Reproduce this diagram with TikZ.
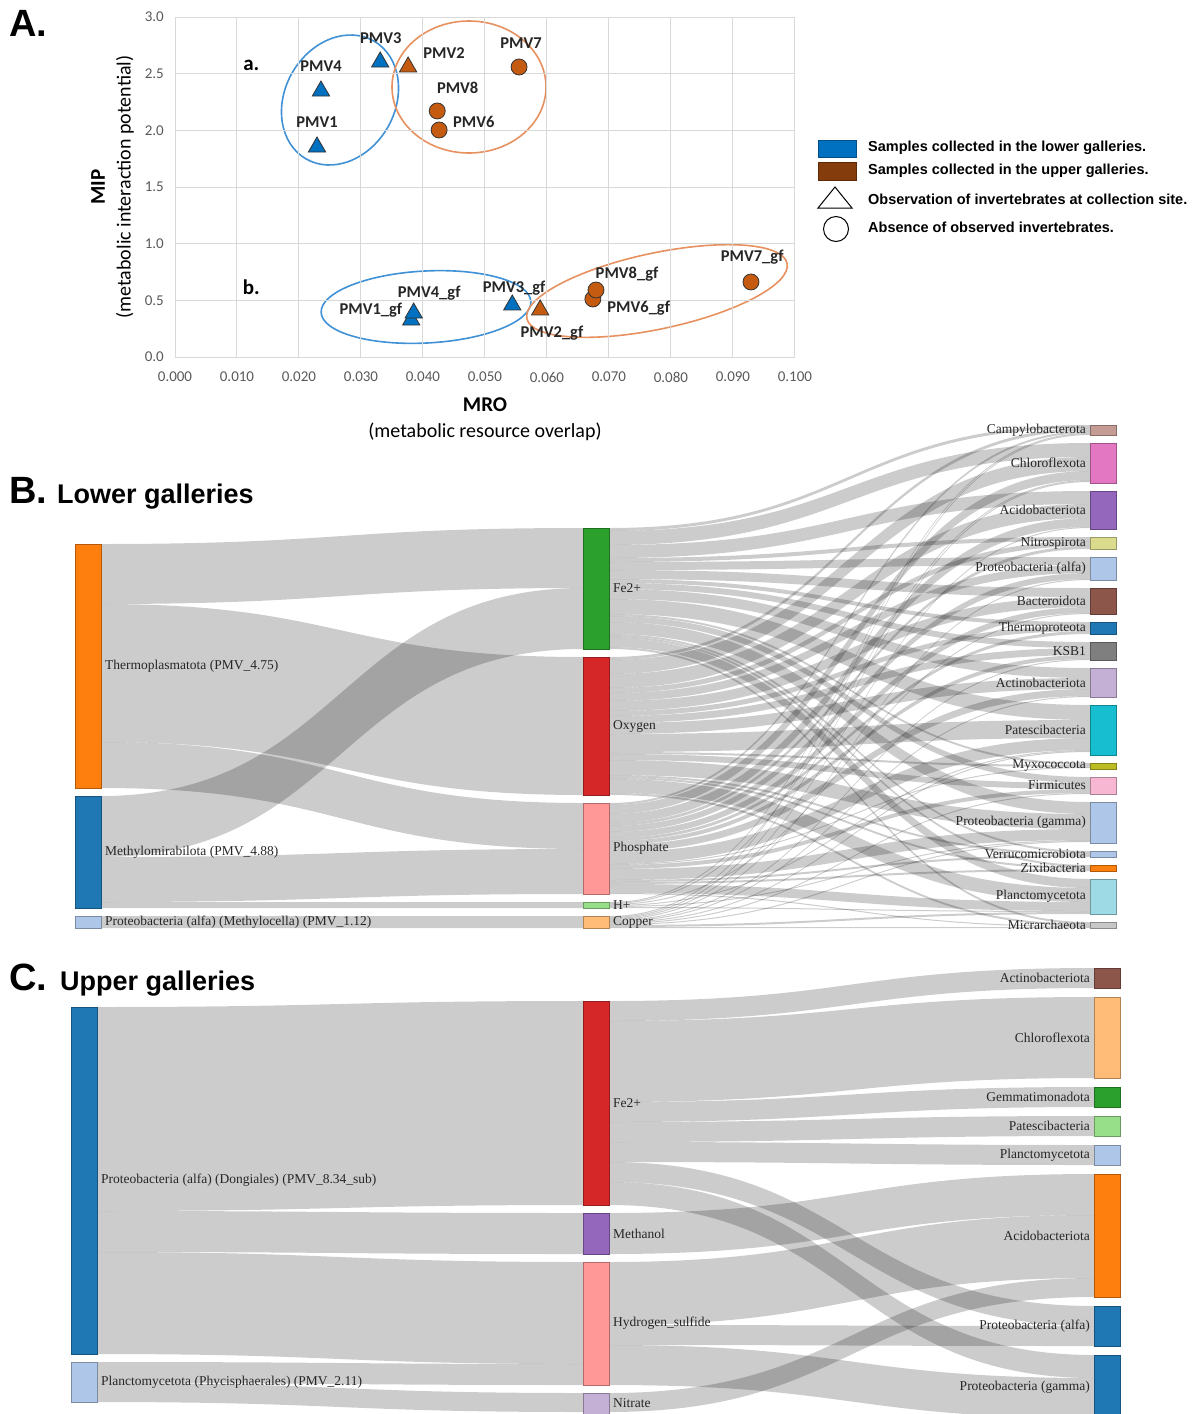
\documentclass[tikz,border=0pt]{standalone}
\usepackage{fontspec}
\setmainfont{Liberation Serif}
\newfontfamily\arialfont{Liberation Sans}
\newfontfamily\calibfont{Carlito}
\usepackage{tikz}
\usetikzlibrary{positioning,shapes.geometric,backgrounds,calc}

% sankey palette
\definecolor{cBlue}{RGB}{31,119,180}
\definecolor{cLtBlue}{RGB}{174,199,232}
\definecolor{cOrange}{RGB}{255,127,14}
\definecolor{cLtOrange}{RGB}{255,187,120}
\definecolor{cGreen}{RGB}{44,160,44}
\definecolor{cLtGreen}{RGB}{152,223,138}
\definecolor{cRed}{RGB}{214,39,40}
\definecolor{cLtRed}{RGB}{255,152,150}
\definecolor{cPurple}{RGB}{148,103,189}
\definecolor{cLtPurple}{RGB}{197,176,213}
\definecolor{cBrown}{RGB}{140,86,75}
\definecolor{cLtBrown}{RGB}{196,156,148}
\definecolor{cPink}{RGB}{227,119,194}
\definecolor{cLtPink}{RGB}{247,182,210}
\definecolor{cGray}{RGB}{127,127,127}
\definecolor{cLtGray}{RGB}{199,199,199}
\definecolor{cOlive}{RGB}{188,189,34}
\definecolor{cLtOlive}{RGB}{219,219,141}
\definecolor{cCyan}{RGB}{23,190,207}
\definecolor{cLtCyan}{RGB}{158,218,229}
% scatter palette
\definecolor{xlBlue}{RGB}{0,112,192}
\definecolor{xlOrange}{RGB}{197,90,17}
\definecolor{xlBrown}{RGB}{132,60,12}
\definecolor{ringBlue}{RGB}{64,145,214}
\definecolor{ringOrange}{RGB}{230,145,95}

% band between two bars, stacked on each side
\newcommand{\flowbend}{241}
\newcommand{\flow}[3]{%
  \ifcsname so#1\endcsname\else\expandafter\gdef\csname so#1\endcsname{0}\fi
  \ifcsname si#2\endcsname\else\expandafter\gdef\csname si#2\endcsname{0}\fi
  \ifdim#3pt>0pt
    \edef\fsa{\csname so#1\endcsname}%
    \edef\fsb{\csname si#2\endcsname}%
    \pgfmathsetmacro\fsc{\fsa+#3}%
    \pgfmathsetmacro\fsd{\fsb+#3}%
    \fill[flow_band] ([yshift=-\fsa pt]#1.north east)
      .. controls +(\flowbend,0) and +(-\flowbend,0) .. ([yshift=-\fsb pt]#2.north west)
      -- ([yshift=-\fsd pt]#2.north west)
      .. controls +(-\flowbend,0) and +(\flowbend,0) .. ([yshift=-\fsc pt]#1.north east) -- cycle;
    \expandafter\xdef\csname so#1\endcsname{\fsc}%
    \expandafter\xdef\csname si#2\endcsname{\fsd}%
  \fi}

\begin{document}
\begin{tikzpicture}[
    x=1pt, y=-1pt,
    label distance=4pt,
    bar_box/.style={draw=#1!70!black, fill=#1, line width=0.6pt, minimum width=26pt, inner sep=0pt, outer sep=0pt, anchor=north west},
    flow_band/.style={fill=black, fill opacity=0.2},
    tax_lbl/.style={font=\fontsize{13.5}{14}\selectfont, inner sep=0pt, text=black!85},
    hdr_big/.style={font=\arialfont\bfseries\fontsize{38}{40}\selectfont, inner sep=0pt, anchor=base west},
    hdr_sub/.style={font=\arialfont\bfseries\fontsize{27}{30}\selectfont, inner sep=0pt, anchor=base west},
    grid_line/.style={draw=black!15, line width=1pt},
    tick_lbl/.style={font=\calibfont\fontsize{15}{16}\selectfont, text=black!65, inner sep=0pt},
    ax_title/.style={font=\calibfont\bfseries\fontsize{21}{22}\selectfont, inner sep=0pt},
    ax_sub/.style={font=\calibfont\fontsize{20}{22}\selectfont, inner sep=0pt},
    pt_lbl/.style={font=\calibfont\bfseries\fontsize{16.5}{17}\selectfont, text=black!85, inner sep=0pt},
    tri_mark/.style={regular polygon, regular polygon sides=3, minimum size=20pt, inner sep=0pt, draw=black!80, line width=0.8pt, fill=#1},
    dot_mark/.style={circle, minimum size=16pt, inner sep=0pt, draw=black!80, line width=0.8pt, fill=#1},
    leg_lbl/.style={font=\arialfont\bfseries\fontsize{14.5}{16}\selectfont, inner sep=0pt, anchor=west},
    ring/.style={draw=#1, line width=1.6pt}
]
\pgfkeys{/pgf/number format/assume math mode=true}
\useasboundingbox (0,0) rectangle (1196,1414);

% ---------------- A: scatter plot ----------------
\node[hdr_big] (tA) at (9,36) {A.};

\draw[ring=ringBlue, rotate around={-30:(340,100)}] (340,100) ellipse [x radius=55pt, y radius=68pt];
\draw[ring=ringOrange] (469,87) ellipse [x radius=77pt, y radius=66pt];
\draw[ring=ringBlue, rotate around={3:(426,307)}] (426,307) ellipse [x radius=105pt, y radius=36pt];
\draw[ring=ringOrange, rotate around={12:(657,291)}] (657,291) ellipse [x radius=133pt, y radius=38pt];

\begin{scope}[shift={(175,357)}, x=6200pt, y=113.33pt]
  \foreach \i in {0,...,10}
    \draw[grid_line] (\i/100,0) -- (\i/100,3);
  \foreach \j in {0,0.5,...,3}
    \draw[grid_line] (0,\j) -- (0.1,\j);
  \foreach \i in {0,...,10}{
    \pgfmathsetmacro\xv{\i/100}
    \node[tick_lbl] (xtk\i) at ([yshift=-20pt]\xv,0) {\pgfmathprintnumber[fixed,fixed zerofill,precision=3]{\xv}};
  }
  \foreach \j [count=\k] in {0,0.5,...,3}
    \node[tick_lbl, anchor=east] (ytk\k) at ([xshift=-11pt]0,\j) {\pgfmathprintnumber[fixed,fixed zerofill,precision=1]{\j}};

  % a. whole samples
  \node[ax_title] (grpA) at (0.0123,2.573) {a.};
  \node[tri_mark=xlBlue] (pmv4) at (0.02355,2.347) {};
  \node[tri_mark=xlBlue] (pmv1) at (0.0229,1.853) {};
  \node[tri_mark=xlBlue] (pmv3) at (0.0331,2.603) {};
  \node[tri_mark=xlOrange] (pmv2) at (0.0376,2.559) {};
  \node[dot_mark=xlOrange] (pmv7) at (0.0555,2.559) {};
  \node[dot_mark=xlOrange] (pmv8) at (0.0423,2.171) {};
  \node[dot_mark=xlOrange] (pmv6) at (0.0426,2.003) {};
  \node[pt_lbl] (pmv4l) at (0.02355,2.568) {PMV4};
  \node[pt_lbl] (pmv1l) at (0.0229,2.074) {PMV1};
  \node[pt_lbl] (pmv3l) at (0.0332,2.815) {PMV3};
  \node[pt_lbl] (pmv2l) at (0.0434,2.682) {PMV2};
  \node[pt_lbl] (pmv7l) at (0.0558,2.771) {PMV7};
  \node[pt_lbl] (pmv8l) at (0.0456,2.374) {PMV8};
  \node[pt_lbl] (pmv6l) at (0.0482,2.074) {PMV6};

  % b. gene-filtered samples
  \node[ax_title] (grpB) at (0.0123,0.612) {b.};
  \node[tri_mark=xlBlue] (pmv1g) at (0.0381,0.326) {};
  \node[tri_mark=xlBlue] (pmv4g) at (0.0385,0.388) {};
  \node[tri_mark=xlBlue] (pmv3g) at (0.0544,0.459) {};
  \node[tri_mark=xlOrange] (pmv2g) at (0.0589,0.415) {};
  \node[dot_mark=xlOrange] (pmv6g) at (0.0674,0.512) {};
  \node[dot_mark=xlOrange] (pmv8g) at (0.0679,0.591) {};
  \node[dot_mark=xlOrange] (pmv7g) at (0.0929,0.662) {};
  \node[pt_lbl] (pmv1gl) at (0.0316,0.415) {PMV1\_gf};
  \node[pt_lbl] (pmv4gl) at (0.0410,0.565) {PMV4\_gf};
  \node[pt_lbl] (pmv3gl) at (0.0547,0.609) {PMV3\_gf};
  \node[pt_lbl] (pmv2gl) at (0.0608,0.212) {PMV2\_gf};
  \node[pt_lbl] (pmv8gl) at (0.0729,0.732) {PMV8\_gf};
  \node[pt_lbl] (pmv6gl) at (0.0748,0.432) {PMV6\_gf};
  \node[pt_lbl] (pmv7gl) at (0.0931,0.882) {PMV7\_gf};
\end{scope}

\node[ax_title] (xtitle) at (485,405) {MRO};
\node[ax_sub] (xsub) at (485,432) {(metabolic resource overlap)};
\node[ax_title, rotate=90] (ytitle) at (98,187) {MIP};
\node[ax_sub, rotate=90] (ysub) at (125,187) {(metabolic interaction potential)};

% legend
\node[draw=xlBlue!70!black, fill=xlBlue, minimum width=38pt, minimum height=17pt, inner sep=0pt, anchor=north west] (legLow) at (818,140) {};
\node[draw=xlBrown!70!black, fill=xlBrown, minimum width=38pt, minimum height=18pt, inner sep=0pt, anchor=north west] (legUp) at (818,162) {};
\draw[line width=1pt] (818,208) -- (835,187) -- (852,208) -- cycle;
\node[circle, draw, line width=1pt, minimum size=25pt, inner sep=0pt] (legDot) at (836,229) {};
\node[leg_lbl] (legT1) at (868,148) {Samples collected in the lower galleries.};
\node[leg_lbl] (legT2) at (868,171) {Samples collected in the upper galleries.};
\node[leg_lbl] (legT3) at (868,199) {Observation of invertebrates at collection site.};
\node[leg_lbl] (legT4) at (868,227) {Absence of observed invertebrates.};

% ---------------- B: lower galleries ----------------
\node[hdr_big] (tB) at (9,503) {B.};
\node[hdr_sub] (tBsub) at (57,503) {Lower galleries};

\node[bar_box=cOrange, minimum height=244pt, label={[tax_lbl]east:Thermoplasmatota (PMV\_4.75)}] (bTherm) at (75,544) {};
\node[bar_box=cBlue, minimum height=112pt, below=8pt of bTherm, label={[tax_lbl]east:Methylomirabilota (PMV\_4.88)}] (bMeth) {};
\node[bar_box=cLtBlue, minimum height=12pt, below=8pt of bMeth, label={[tax_lbl]east:Proteobacteria (alfa) (Methylocella) (PMV\_1.12)}] (bProtM) {};

\node[bar_box=cGreen, minimum height=121pt, label={[tax_lbl]east:Fe2+}] (bFe) at (583,528) {};
\node[bar_box=cRed, minimum height=138pt, below=8pt of bFe, label={[tax_lbl]east:Oxygen}] (bOxy) {};
\node[bar_box=cLtRed, minimum height=91pt, below=8pt of bOxy, label={[tax_lbl]east:Phosphate}] (bPhos) {};
\node[bar_box=cLtGreen, minimum height=6pt, below=8pt of bPhos, label={[tax_lbl]east:H+}] (bHp) {};
\node[bar_box=cLtOrange, minimum height=12pt, below=8pt of bHp, label={[tax_lbl]east:Copper}] (bCu) {};

\node[bar_box=cLtBrown, minimum height=10pt, label={[tax_lbl]west:Campylobacterota}] (bCampy) at (1090,425) {};
\node[bar_box=cPink, minimum height=40pt, below=8pt of bCampy, label={[tax_lbl]west:Chloroflexota}] (bChloro) {};
\node[bar_box=cPurple, minimum height=38pt, below=8pt of bChloro, label={[tax_lbl]west:Acidobacteriota}] (bAcido) {};
\node[bar_box=cLtOlive, minimum height=12pt, below=8pt of bAcido, label={[tax_lbl]west:Nitrospirota}] (bNitro) {};
\node[bar_box=cLtBlue, minimum height=23pt, below=8pt of bNitro, label={[tax_lbl]west:Proteobacteria (alfa)}] (bProtA) {};
\node[bar_box=cBrown, minimum height=26pt, below=8pt of bProtA, label={[tax_lbl]west:Bacteroidota}] (bBact) {};
\node[bar_box=cBlue, minimum height=12pt, below=8pt of bBact, label={[tax_lbl]west:Thermoproteota}] (bThermo) {};
\node[bar_box=cGray, minimum height=18pt, below=8pt of bThermo, label={[tax_lbl]west:KSB1}] (bKsb) {};
\node[bar_box=cLtPurple, minimum height=29pt, below=8pt of bKsb, label={[tax_lbl]west:Actinobacteriota}] (bActino) {};
\node[bar_box=cCyan, minimum height=50pt, below=8pt of bActino, label={[tax_lbl]west:Patescibacteria}] (bPatesc) {};
\node[bar_box=cOlive, minimum height=6pt, below=8pt of bPatesc, label={[tax_lbl]west:Myxococcota}] (bMyxo) {};
\node[bar_box=cLtPink, minimum height=17pt, below=8pt of bMyxo, label={[tax_lbl]west:Firmicutes}] (bFirm) {};
\node[bar_box=cLtBlue, minimum height=41pt, below=8pt of bFirm, label={[tax_lbl]west:Proteobacteria (gamma)}] (bProtG) {};
\node[bar_box=cLtBlue, minimum height=6pt, below=8pt of bProtG, label={[tax_lbl]west:Verrucomicrobiota}] (bVerr) {};
\node[bar_box=cOrange, minimum height=6pt, below=8pt of bVerr, label={[tax_lbl]west:Zixibacteria}] (bZixi) {};
\node[bar_box=cLtCyan, minimum height=35pt, below=8pt of bZixi, label={[tax_lbl]west:Planctomycetota}] (bPlancto) {};
\node[bar_box=cLtGray, minimum height=6pt, below=8pt of bPlancto, label={[tax_lbl]west:Micrarchaeota}] (bMicr) {};

\begin{scope}[on background layer]
  \flow{bTherm}{bFe}{60}
  \flow{bMeth}{bFe}{61}
  \flow{bTherm}{bOxy}{138}
  \flow{bTherm}{bPhos}{46}
  \flow{bMeth}{bPhos}{45}
  \flow{bMeth}{bHp}{6}
  \flow{bProtM}{bCu}{12}
  % Fe2+ / Oxygen / Phosphate / H+ / Copper into each taxon
  \foreach \t/\va/\vb/\vc/\vd/\ve in {
      bCampy/3/3/2/1/1, bChloro/14/14/9/1/1, bAcido/13/14/9/0/1, bNitro/4/5/3/0/0,
      bProtA/8/8/6/0/1, bBact/9/10/6/1/0, bThermo/4/5/3/0/0, bKsb/6/7/4/0/1,
      bActino/10/11/7/0/1, bPatesc/15/18/12/1/1, bMyxo/2/2/1/0/0, bFirm/6/6/4/0/1,
      bProtG/12/15/11/1/1, bVerr/2/2/2/0/0, bZixi/2/2/2/0/0, bPlancto/9/14/9/1/2,
      bMicr/2/2/1/0/1}{
    \flow{bFe}{\t}{\va}
    \flow{bOxy}{\t}{\vb}
    \flow{bPhos}{\t}{\vc}
    \flow{bHp}{\t}{\vd}
    \flow{bCu}{\t}{\ve}
  }
\end{scope}

% ---------------- C: upper galleries ----------------
\node[hdr_big] (tC) at (9,990) {C.};
\node[hdr_sub] (tCsub) at (60,990) {Upper galleries};

\node[bar_box=cBlue, minimum height=347pt, label={[tax_lbl]east:Proteobacteria (alfa) (Dongiales) (PMV\_8.34\_sub)}] (cProtD) at (71,1007) {};
\node[bar_box=cLtBlue, minimum height=40pt, below=8pt of cProtD, label={[tax_lbl]east:Planctomycetota (Phycisphaerales) (PMV\_2.11)}] (cPlan) {};

\node[bar_box=cRed, minimum height=204pt, label={[tax_lbl]east:Fe2+}] (cFe) at (583,1001) {};
\node[bar_box=cPurple, minimum height=41pt, below=8pt of cFe, label={[tax_lbl]east:Methanol}] (cMeOH) {};
\node[bar_box=cLtRed, minimum height=123pt, below=8pt of cMeOH, label={[tax_lbl]east:Hydrogen\_sulfide}] (cH2S) {};
\node[bar_box=cLtPurple, minimum height=21pt, below=8pt of cH2S, label={[tax_lbl]east:Nitrate}] (cNit) {};

\node[bar_box=cBrown, minimum height=20pt, label={[tax_lbl]west:Actinobacteriota}] (cAct) at (1094,968) {};
\node[bar_box=cLtOrange, minimum height=81pt, below=9pt of cAct, label={[tax_lbl]west:Chloroflexota}] (cChl) {};
\node[bar_box=cGreen, minimum height=20pt, below=9pt of cChl, label={[tax_lbl]west:Gemmatimonadota}] (cGem) {};
\node[bar_box=cLtGreen, minimum height=20pt, below=9pt of cGem, label={[tax_lbl]west:Patescibacteria}] (cPat) {};
\node[bar_box=cLtBlue, minimum height=20pt, below=9pt of cPat, label={[tax_lbl]west:Planctomycetota}] (cPla) {};
\node[bar_box=cOrange, minimum height=123pt, below=9pt of cPla, label={[tax_lbl]west:Acidobacteriota}] (cAci) {};
\node[bar_box=cBlue, minimum height=40pt, below=9pt of cAci, label={[tax_lbl]west:Proteobacteria (alfa)}] (cPrA) {};
\node[bar_box=cBlue, minimum height=65pt, below=9pt of cPrA, label={[tax_lbl]west:Proteobacteria (gamma)}] (cPrG) {};

\begin{scope}[on background layer]
  \flow{cProtD}{cFe}{204}
  \flow{cProtD}{cMeOH}{41}
  \flow{cProtD}{cH2S}{102}
  \flow{cPlan}{cH2S}{21}
  \flow{cPlan}{cNit}{19}
  \flow{cFe}{cAct}{20}
  \flow{cFe}{cChl}{81}
  \flow{cFe}{cGem}{20}
  \flow{cFe}{cPat}{20}
  \flow{cFe}{cPla}{20}
  \flow{cMeOH}{cAci}{41}
  \flow{cH2S}{cAci}{63}
  \flow{cNit}{cAci}{19}
  \flow{cFe}{cPrA}{20}
  \flow{cH2S}{cPrA}{20}
  \flow{cFe}{cPrG}{23}
  \flow{cH2S}{cPrG}{40}
\end{scope}

\end{tikzpicture}
\end{document}
